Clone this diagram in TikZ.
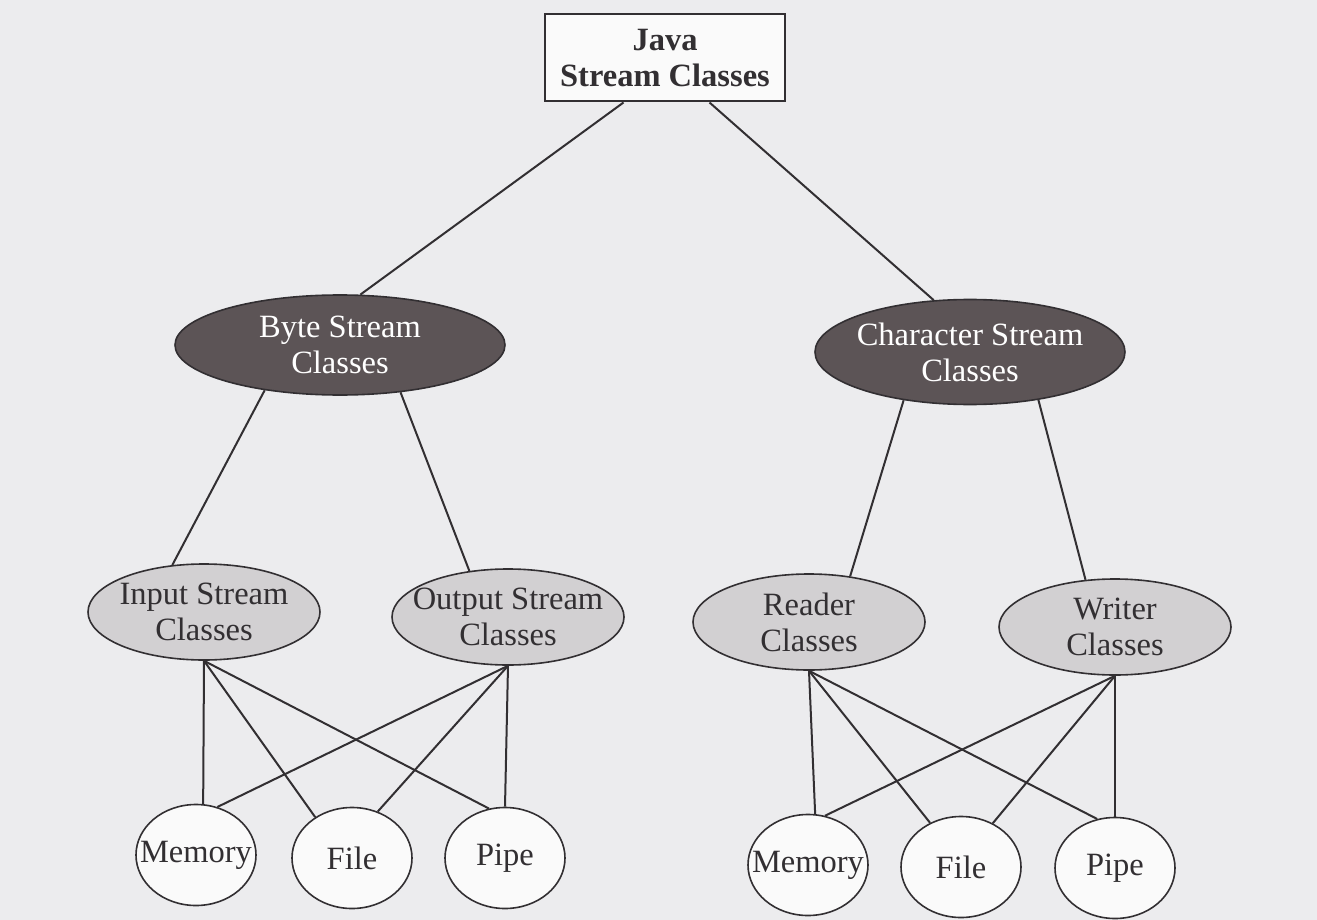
\documentclass[tikz,border=0pt]{standalone}
\usepackage{fontspec}
\setmainfont{Liberation Serif}
\usetikzlibrary{shapes.geometric}
\definecolor{paper}{RGB}{236,236,238}
\definecolor{ink}{RGB}{50,47,50}
\definecolor{darkfill}{RGB}{92,84,86}
\definecolor{midfill}{RGB}{210,208,210}
\definecolor{boxfill}{RGB}{250,250,250}
\begin{document}
\begin{tikzpicture}[x=1pt,y=-1pt,
  every node/.style={font=\fontsize{32.5}{36}\selectfont, text=ink, align=center, inner sep=0pt},
  root/.style={draw=ink, line width=2pt, fill=boxfill, minimum width=240pt, minimum height=87pt,
    font=\fontsize{32.5}{36}\selectfont\bfseries},
  family/.style={ellipse, draw=ink, line width=1.6pt, fill=darkfill, text=white, inner xsep=-25pt},
  kind/.style={ellipse, draw=ink, line width=1.6pt, fill=midfill, inner xsep=-25pt,
    minimum width=232pt, minimum height=96pt},
  sink/.style={ellipse, draw=ink, line width=1.6pt, fill=boxfill, inner xsep=-20pt,
    minimum width=120pt, minimum height=101pt},
  link/.style={draw=ink, line width=2pt}]

% page
\fill[paper] (0,0) rectangle (1317,920);
\useasboundingbox (0,0) rectangle (1317,920);

% root
\node[root] (java) at (665,58) {Java\\Stream Classes};

% stream families
\node[family, minimum width=330pt, minimum height=100pt] (byte) at (340,345) {Byte Stream\\Classes};
\node[family, minimum width=310pt, minimum height=105pt] (char) at (970,352) {Character Stream\\Classes};

% stream kinds
\node[kind] (in)     at (204,612)  {Input Stream\\Classes};
\node[kind] (out)    at (508,617)  {Output Stream\\Classes};
\node[kind] (reader) at (809,622)  {Reader\\Classes};
\node[kind] (writer) at (1115,627) {Writer\\Classes};

% sources and sinks
\node[sink] (memA) at (196,855) {Memory};
\node[sink] (fileA) at (352,858) {File};
\node[sink] (pipeA) at (505,858) {Pipe};
\node[sink] (memB) at (808,865) {Memory};
\node[sink] (fileB) at (961,867) {File};
\node[sink] (pipeB) at (1115,868) {Pipe};

% hierarchy
\draw[link] (java.227.7) -- (byte.68);
\draw[link] (java.315.6) -- (char.125);
\draw[link] (byte.211.6) -- (in.124.6);
\draw[link] (byte.322) -- (out.130);
\draw[link] (char.216) -- (reader.48);
\draw[link] (char.325.6) -- (writer.122.5);

% byte streams to devices
\draw[link] (in.south) -- (memA.82);
\draw[link] (in.south) -- (fileA.132);
\draw[link] (in.south) -- (pipeA.108);
\draw[link] (out.south) -- (memA.66);
\draw[link] (out.south) -- (fileA.61);
\draw[link] (out.south) -- (pipeA.north);

% character streams to devices
\draw[link] (reader.south) -- (memB.82);
\draw[link] (reader.south) -- (fileB.125);
\draw[link] (reader.south) -- (pipeB.110);
\draw[link] (writer.south) -- (memB.71);
\draw[link] (writer.south) -- (fileB.54);
\draw[link] (writer.south) -- (pipeB.north);
\end{tikzpicture}
\end{document}
